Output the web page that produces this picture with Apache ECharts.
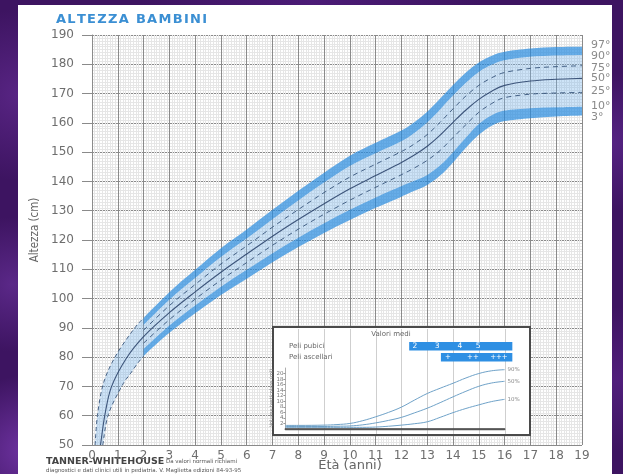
<!DOCTYPE html>
<html><head><meta charset="utf-8">
<script src="https://cdn.jsdelivr.net/npm/echarts@6/dist/echarts.min.js"></script>
<style>
html,body{margin:0;padding:0;width:623px;height:474px;overflow:hidden;}
body{background-color:#3d1461;
background-image:
radial-gradient(circle at 3% 20%, rgba(110,50,160,0.55), transparent 12%),
radial-gradient(circle at 2% 60%, rgba(120,60,175,0.5), transparent 10%),
radial-gradient(circle at 4% 95%, rgba(140,70,200,0.6), transparent 10%),
radial-gradient(circle at 98% 30%, rgba(110,50,165,0.5), transparent 10%),
radial-gradient(circle at 99% 80%, rgba(100,40,150,0.5), transparent 10%),
radial-gradient(circle at 50% 0%, rgba(90,35,140,0.5), transparent 30%);}
#panel{position:absolute;left:18px;top:5px;width:594px;height:469px;background:#fff;}
#chart{position:absolute;left:0;top:0;width:623px;height:474px;}
</style></head>
<body><div id="panel"></div><div id="chart"></div>
<script>
// ---------- DATA ----------
const chartTitle = 'ALTEZZA BAMBINI';
const xTickLabels = ['0','1','2','3','4','5','6','7','8','9','10','11','12','13','14','15','16','17','18','19'];
const yTickLabels = ['50','60','70','80','90','100','110','120','130','140','150','160','170','180','190'];

// infant section (0-2 years): ages and heights of the outer curves and median
const infantAges97 = [0.12, 0.21, 0.44, 0.89, 1.54];
const infantH97    = [50, 60, 71, 80, 88.6];
const infantAges50 = [0.33, 0.5, 0.76, 1.34];
const infantH50    = [50, 60.3, 70, 79.7];
const infantAges3  = [0.42, 0.63, 1.15, 1.5];
const infantH3     = [50, 60.3, 70, 74.5];

// 2-19 years
const ages = [2,3,4,5,6,7,8,9,10,11,12,12.5,13,13.5,14,14.5,15,15.5,16,17,18,19];
const p97 = [93.4,102.2,109.8,117.2,123.6,130.3,136.8,143.0,148.8,153.2,157.4,160.2,163.8,168.3,172.9,177.2,180.6,182.9,184.3,185.4,185.9,186.0];
const p90 = [91.0,99.6,107.0,114.2,120.5,127.1,133.5,139.6,145.3,149.6,153.7,156.5,160.1,164.6,169.3,173.7,177.4,179.8,181.4,182.6,183.0,183.2];
const p75 = [89.2,97.6,104.8,111.8,118.0,124.4,130.4,136.2,141.5,145.9,150.2,152.8,156.0,160.2,164.8,169.2,172.8,175.4,177.2,178.6,179.2,179.5];
const p50 = [87.0,95.2,102.3,109.0,115.2,121.3,127.0,132.4,137.5,142.0,146.5,149.0,152.0,155.8,160.2,164.4,168.0,170.8,172.8,174.3,174.9,175.2];
const p25 = [84.8,92.8,99.8,106.3,112.3,118.2,123.7,128.8,133.6,138.0,142.3,144.6,147.2,150.6,155.0,159.4,163.6,166.6,168.6,169.8,170.2,170.4];
const p10 = [82.8,90.8,97.6,104.0,109.8,115.5,120.8,125.7,130.3,134.5,138.4,140.2,142.2,145.5,150.0,155.0,159.6,162.6,164.2,165.0,165.3,165.5];
const p3  = [80.3,88.3,95.0,101.2,106.8,112.4,117.6,122.4,126.8,131.0,134.8,136.8,138.8,142.0,146.5,151.5,155.9,159.0,160.6,161.6,162.2,162.5];
const pctLabels = ['97°','90°','75°','50°','25°','10°','3°'];

// inset: testicular volume (ml)
const insetAges = [7.5,8,9,9.5,10,10.5,11,11.5,12,12.5,13,13.5,14,14.5,15,15.5,16];
const testis90 = [1.3,1.3,1.4,1.6,2.0,3.0,4.4,6.0,7.9,10.4,12.8,14.7,16.5,18.4,20.0,21.0,21.4];
const testis50 = [0.9,0.9,0.9,1.0,1.1,1.5,2.2,3.1,4.2,5.8,7.5,9.5,11.6,13.6,15.4,16.6,17.2];
const testis10 = [0.6,0.6,0.6,0.6,0.6,0.6,0.7,1.0,1.4,1.9,2.6,4.2,5.9,7.4,8.7,9.9,10.7];
const insetTickLabels = ['0','2','4','6','8','10','12','14','16','18','20','22'];
const insetGridAges = [8,9,10,11,12,13,14,15,16];
const pubicRange = [12.3, 16.3];
const pubicStages = ['2','3','4','5'];
const pubicStageAges = [12.52, 13.38, 14.27, 14.97];
const axillaryRange = [13.53, 16.3];
const axillaryStages = ['+','++','+++'];
const axillaryStageAges = [13.8, 14.77, 15.78];

// ---------- BUILD ----------
const pairs = (a, v) => a.map((x, i) => [x, v[i]]);
const c97 = pairs(infantAges97, infantH97).concat(pairs(ages, p97));
const c50 = pairs(infantAges50, infantH50).concat(pairs(ages, p50));
const c3  = pairs(infantAges3, infantH3).concat(pairs(ages, p3));
const c90 = pairs(ages, p90), c75 = pairs(ages, p75), c25 = pairs(ages, p25), c10 = pairs(ages, p10);
const i2_97 = infantAges97.length, i2_3 = infantAges3.length;

function seg(P, i0, i1, move) {
  let s = (move ? 'M' : 'L') + P[i0][0] + ' ' + P[i0][1];
  for (let i = i0; i < i1; i++) {
    const p0 = P[Math.max(i - 1, 0)], p1 = P[i], p2 = P[i + 1], p3 = P[Math.min(i + 2, P.length - 1)];
    const t = 1 / 6;
    const c1 = [p1[0] + (p2[0] - p0[0]) * t, p1[1] + (p2[1] - p0[1]) * t];
    const c2 = [p2[0] - (p3[0] - p1[0]) * t, p2[1] - (p3[1] - p1[1]) * t];
    s += ' C' + c1[0] + ' ' + c1[1] + ' ' + c2[0] + ' ' + c2[1] + ' ' + p2[0] + ' ' + p2[1];
  }
  return s;
}
function segRev(P, i0, i1) {
  const R = P.slice().reverse(), n = P.length;
  return seg(R, n - 1 - i1, n - 1 - i0, false);
}
function band(up, u0, u1, lo, l0, l1, color) {
  return {
    type: 'custom', coordinateSystem: 'cartesian2d', xAxisIndex: 0, yAxisIndex: 0, clip: true, silent: true, z: 2,
    data: [[0, 50]],
    renderItem: (params, api) => {
      const U = up.map(p => api.coord(p)), L = lo.map(p => api.coord(p));
      const d = seg(U, u0, u1, true) + ' ' + segRev(L, l0, l1) + ' Z';
      return { type: 'path', shape: { pathData: d }, style: { fill: color, stroke: null } };
    }
  };
}
function curve(P0, i0, i1, dash, color, width) {
  return {
    type: 'custom', coordinateSystem: 'cartesian2d', xAxisIndex: 0, yAxisIndex: 0, clip: true, silent: true, z: 3,
    data: [[0, 50]],
    renderItem: (params, api) => {
      const P = P0.map(p => api.coord(p));
      return { type: 'path', shape: { pathData: seg(P, i0, i1, true) },
        style: { fill: null, stroke: color, lineWidth: width, lineDash: dash } };
    }
  };
}
const DARK = 'rgba(38,138,222,0.70)';
const LIGHT = 'rgba(120,180,236,0.36)';
const LINEC = 'rgba(45,75,115,0.85)';

const series = [
  band(c97, 0, i2_97, c3, 0, i2_3, LIGHT),
  band(c97, i2_97, c97.length - 1, c90, 0, c90.length - 1, DARK),
  band(c90, 0, c90.length - 1, c10, 0, c10.length - 1, LIGHT),
  band(c10, 0, c10.length - 1, c3, i2_3, c3.length - 1, DARK),
  curve(c97, 0, i2_97, [4, 3], LINEC, 1),
  curve(c3, 0, i2_3, [4, 3], LINEC, 1),
  curve(c75, 0, c75.length - 1, [5, 4], LINEC, 1),
  curve(c25, 0, c25.length - 1, [5, 4], LINEC, 1),
  curve(c50, 0, c50.length - 1, null, 'rgba(45,70,110,0.9)', 1.1),
  {
    type: 'custom', coordinateSystem: 'cartesian2d', xAxisIndex: 0, yAxisIndex: 0, silent: true, z: 4, data: [[0, 50]],
    renderItem: (params, api) => {
      const ends = [p97, p90, p75, p50, p25, p10, p3].map(a => a[a.length - 1]);
      const dy = [-2, 1, 2, 0, -1, -1, 2];
      return { type: 'group', children: ends.map((v, k) => {
        const c = api.coord([ages[ages.length - 1], v]);
        return { type: 'text', x: c[0] + 9, y: c[1] + dy[k],
          style: { text: pctLabels[k], fill: '#8a8a8a', font: '11px "DejaVu Sans"', align: 'left', verticalAlign: 'middle', textAlign: 'left', textVerticalAlign: 'middle' } };
      }) };
    }
  },
  // faint main-grid year lines visible inside the inset box
  {
    type: 'custom', coordinateSystem: 'cartesian2d', xAxisIndex: 0, yAxisIndex: 0, silent: true, z: 9, data: [[0, 50]],
    renderItem: (params, api) => ({ type: 'group', children: insetGridAges.map(a => {
      const x = Math.round(api.coord([a, 50])[0]) + 0.5;
      return { type: 'line', shape: { x1: x, y1: 329, x2: x, y2: 434 }, style: { stroke: '#cfcfcf', lineWidth: 1 } };
    }) })
  },
  // inset lines
  ...[['90%', testis90], ['50%', testis50], ['10%', testis10]].map(([n, d]) => ({
    type: 'line', name: n, xAxisIndex: 1, yAxisIndex: 1, z: 12, smooth: 0.4, symbol: 'none', silent: true,
    data: pairs(insetAges, d), lineStyle: { color: '#6fa2c8', width: 1 },
    endLabel: { show: true, formatter: n, color: '#8a8a8a', fontSize: 5.5, distance: 3, fontFamily: 'DejaVu Sans' }
  })),
  // inset bars (pubertal stages)
  {
    type: 'custom', coordinateSystem: 'cartesian2d', xAxisIndex: 1, yAxisIndex: 1, silent: true, z: 12, data: [[8, 0]],
    renderItem: (params, api) => {
      const bx = r => [api.coord([r[0], 0])[0], api.coord([r[1], 0])[0]];
      const pb = bx(pubicRange), ab = bx(axillaryRange);
      const kids = [
        { type: 'rect', shape: { x: pb[0], y: 342, width: pb[1] - pb[0], height: 8.5 }, style: { fill: '#2e8fe3' } },
        { type: 'rect', shape: { x: ab[0], y: 353, width: ab[1] - ab[0], height: 8.5 }, style: { fill: '#2e8fe3' } }
      ];
      pubicStages.forEach((s, k) => kids.push({ type: 'text', x: api.coord([pubicStageAges[k], 0])[0], y: 346.5,
        style: { text: s, fill: '#fff', font: '7.5px "DejaVu Sans"', align: 'center', verticalAlign: 'middle', textAlign: 'center', textVerticalAlign: 'middle' } }));
      axillaryStages.forEach((s, k) => kids.push({ type: 'text', x: api.coord([axillaryStageAges[k], 0])[0], y: 357.5,
        style: { text: s, fill: '#fff', font: '7px "DejaVu Sans"', align: 'center', verticalAlign: 'middle', textAlign: 'center', textVerticalAlign: 'middle' } }));
      return { type: 'group', children: kids };
    }
  }
];

const option = {
  animation: false,
  backgroundColor: 'transparent',
  title: { text: chartTitle.split('').join('\u200A'), left: 51, top: 8,
    textStyle: { color: '#3b8fd3', fontSize: 13, fontWeight: 'bold', fontFamily: 'DejaVu Sans' } },
  grid: [
    { left: 92, top: 35, width: 490, height: 410 },
    { left: 285.4, top: 368, width: 219.2, height: 61 }
  ],
  xAxis: [
    { type: 'value', gridIndex: 0, min: 0, max: 19, interval: 1,
      axisLine: { show: false }, axisTick: { show: false },
      axisLabel: { color: '#6e6e6e', fontSize: 12, margin: 5, fontFamily: 'DejaVu Sans', formatter: v => xTickLabels[Math.round(v)] },
      splitLine: { show: true, lineStyle: { color: '#8a8a8a', width: 1 } },
      minorTick: { show: false, splitNumber: 10 },
      minorSplitLine: { show: true, lineStyle: { color: '#e6e6e6', width: 1 } } },
    { type: 'value', gridIndex: 1, min: 7.5, max: 16, z: 11,
      axisLine: { show: true, onZero: false, lineStyle: { color: '#444', width: 1.5 } }, axisTick: { show: false },
      axisLabel: { show: false }, splitLine: { show: false } },
    { type: 'value', gridIndex: 1, min: 7.5, max: 16, position: 'top', z: 11,
      axisLine: { show: true, lineStyle: { color: '#555', width: 1.3 } }, axisTick: { show: false },
      axisLabel: { show: false }, splitLine: { show: false } }
  ],
  yAxis: [
    { type: 'value', gridIndex: 0, min: 50, max: 190, interval: 10,
      axisLine: { show: true, lineStyle: { color: '#8a8a8a' } },
      axisTick: { show: true, length: 10, lineStyle: { color: '#8a8a8a' } },
      axisLabel: { color: '#6e6e6e', fontSize: 12, margin: 18, fontFamily: 'DejaVu Sans', formatter: v => yTickLabels[Math.round((v - 50) / 10)] },
      splitLine: { show: true, lineStyle: { color: '#8a8a8a', width: 1 } },
      minorTick: { show: false, splitNumber: 10 },
      minorSplitLine: { show: true, lineStyle: { color: '#e6e6e6', width: 1 } } },
    { type: 'value', gridIndex: 1, min: 0, max: 22, interval: 2, z: 11,
      axisLine: { show: true, lineStyle: { color: '#999', width: 0.8 } },
      axisTick: { show: true, length: 2, lineStyle: { color: '#999' } },
      axisLabel: { color: '#777', fontSize: 5.5, margin: 2, fontFamily: 'DejaVu Sans', formatter: v => insetTickLabels[Math.round(v / 2)] },
      splitLine: { show: false } }
  ],
  graphic: [
    { type: 'rect', z: 8, shape: { x: 273, y: 327, width: 257, height: 108 },
      style: { fill: '#ffffff', stroke: '#4a4a4a', lineWidth: 2 } },
    { type: 'text', z: 12, x: 391, y: 334, style: { text: 'Valori medi', fill: '#666', font: '7px "DejaVu Sans"', align: 'center', verticalAlign: 'middle', textAlign: 'center', textVerticalAlign: 'middle' } },
    { type: 'text', z: 12, x: 289, y: 346, style: { text: 'Peli pubici', fill: '#666', font: '7px "DejaVu Sans"', verticalAlign: 'middle', textVerticalAlign: 'middle' } },
    { type: 'text', z: 12, x: 289, y: 357.5, style: { text: 'Peli ascellari', fill: '#666', font: '7px "DejaVu Sans"', verticalAlign: 'middle', textVerticalAlign: 'middle' } },
    { type: 'text', z: 12, x: 272, y: 398, rotation: Math.PI / 2, style: { text: 'Volume testicolare (ml)', fill: '#777', font: '5px "DejaVu Sans"', align: 'center', verticalAlign: 'middle', textAlign: 'center', textVerticalAlign: 'middle' } },
    { type: 'text', x: 35, y: 230, rotation: Math.PI / 2, style: { text: 'Altezza (cm)', fill: '#666', font: '11.5px "DejaVu Sans Condensed", "DejaVu Sans"', align: 'center', verticalAlign: 'middle', textAlign: 'center', textVerticalAlign: 'middle' } },
    { type: 'text', x: 350, y: 466, style: { text: 'Età (anni)', fill: '#666', font: '13px "DejaVu Sans"', align: 'center', verticalAlign: 'middle', textAlign: 'center', textVerticalAlign: 'middle' } },
    { type: 'text', x: 46, y: 462, style: { text: 'TANNER-WHITEHOUSE', fill: '#444', font: 'bold 9.5px "DejaVu Sans"', verticalAlign: 'middle', textVerticalAlign: 'middle' } },
    { type: 'text', x: 166, y: 462, style: { text: 'Da valori normali richiami', fill: '#555', font: '5.5px "DejaVu Sans"', verticalAlign: 'middle', textVerticalAlign: 'middle' } },
    { type: 'text', x: 46, y: 470.5, style: { text: 'diagnostici e dati clinici utili in pediatria. V. Maglietta edizioni 84-93-95', fill: '#555', font: '5.5px "DejaVu Sans"', verticalAlign: 'middle', textVerticalAlign: 'middle' } }
  ],
  series: series
};
const chart = echarts.init(document.getElementById('chart'));
chart.setOption(option);
</script></body></html>
